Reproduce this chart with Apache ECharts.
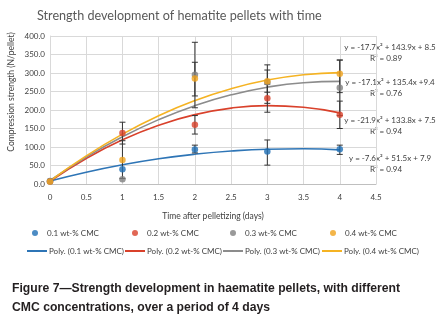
<!DOCTYPE html>
<html>
<head>
<meta charset="utf-8">
<script src="https://cdn.jsdelivr.net/npm/echarts@6/dist/echarts.min.js"></script>
<style>
html,body{margin:0;padding:0;background:#fff;}
#c{width:444px;height:330px;}
</style>
</head>
<body>
<div id="c"></div>
<script>
// ---- data ----
const days = [0, 1, 2, 3, 4];
const cmc01 = [8, 40, 93, 88, 94];
const cmc02 = [7, 138, 160, 232, 187];
const cmc03 = [7, 13, 295, 275, 260];
const cmc04 = [7, 65, 285, 278, 298];

// error bar ranges [low, high] per day (null = none visible)
const err01 = [null, null, [84, 105], [51, 119], [80, 105]];
const err02 = [null, [108, 167], [135, 185], [194, 270], [150, 224]];
const err03 = [null, null, [206, 383], [218, 322], [185, 335]];
const err04 = [null, [15, 117], [238, 329], [248, 308], [247, 335]];

// polynomial trendlines
const trendX = [0, 0.5, 1, 1.5, 2, 2.5, 3, 3.5, 4];
const poly01 = [7.9, 31.8, 51.8, 68.1, 80.5, 89.2, 94.0, 95.1, 92.3];
const poly02 = [7.5, 68.9, 119.4, 158.9, 187.5, 205.1, 211.8, 207.5, 192.3];
const poly03 = [9.4, 72.8, 127.7, 174.0, 211.8, 241.0, 261.7, 273.8, 277.4];
const poly04 = [8.5, 76.0, 134.7, 184.5, 225.5, 257.6, 280.9, 295.3, 300.9];

const names = ['0.1 wt-% CMC', '0.2 wt-% CMC', '0.3 wt-% CMC', '0.4 wt-% CMC'];
const polyNames = ['Poly. (0.1 wt-% CMC)', 'Poly. (0.2 wt-% CMC)', 'Poly. (0.3 wt-% CMC)', 'Poly. (0.4 wt-% CMC)'];
const equations = ['y = -7.6x² + 51.5x + 7.9', 'y = -21.9x² + 133.8x + 7.5', 'y = -17.1x² + 135.4x +9.4', 'y = -17.7x² + 143.9x + 8.5'];
const r2 = ['R² = 0.94', 'R² = 0.94', 'R² = 0.76', 'R² = 0.89'];
const xTicks = [0, 0.5, 1, 1.5, 2, 2.5, 3, 3.5, 4, 4.5];

const ptColors = ['#1f6fb5', '#d9412b', '#7f7f7f', '#f0a21c'];
const lnColors = ['#2e75b6', '#d9412b', '#8c8c8c', '#f5b323'];
const FONT = 'Lato';

const pointSets = [cmc01, cmc02, cmc03, cmc04];
const errSets = [err01, err02, err03, err04];
const polySets = [poly01, poly02, poly03, poly04];

const series = [];
polySets.forEach((p, i) => {
  series.push({
    name: polyNames[i], type: 'line', smooth: true, symbol: 'none',
    data: trendX.map((x, k) => [x, p[k]]),
    lineStyle: { color: lnColors[i], width: 1.6 },
    itemStyle: { color: lnColors[i] },
    z: 2, silent: true
  });
});
// error bars
const errData = [];
errSets.forEach(es => es.forEach((e, k) => { if (e) errData.push([days[k], e[0], e[1]]); }));
series.push({
  type: 'custom', z: 3, silent: true,
  data: errData,
  renderItem: function (params, api) {
    const x = api.value(0);
    const lo = api.coord([x, api.value(1)]);
    const hi = api.coord([x, api.value(2)]);
    const w = 3;
    const st = { stroke: '#333', lineWidth: 1 };
    return {
      type: 'group', children: [
        { type: 'line', shape: { x1: lo[0], y1: lo[1], x2: hi[0], y2: hi[1] }, style: st },
        { type: 'line', shape: { x1: lo[0] - w, y1: lo[1], x2: lo[0] + w, y2: lo[1] }, style: st },
        { type: 'line', shape: { x1: hi[0] - w, y1: hi[1], x2: hi[0] + w, y2: hi[1] }, style: st }
      ]
    };
  }
});
pointSets.forEach((p, i) => {
  series.push({
    name: names[i], type: 'scatter', symbol: 'circle', symbolSize: 6.5,
    data: days.map((d, k) => [d, p[k]]),
    itemStyle: { color: ptColors[i] }, z: 4
  });
});

const legends = [];
const dotX = [27, 127, 225, 325];
names.forEach((n, i) => {
  legends.push({
    data: [{ name: n, icon: 'circle' }], left: dotX[i], top: 224, itemWidth: 6, itemHeight: 6,
    textStyle: { fontFamily: FONT, fontSize: 8, color: '#404040', padding: [0, 0, 0, 4] },
    selectedMode: false
  });
});
const lineX = [21, 119, 217, 316];
polyNames.forEach((n, i) => {
  legends.push({
    data: [n], left: lineX[i], top: 242, itemWidth: 20, itemHeight: 2,
    textStyle: { fontFamily: FONT, fontSize: 8, color: '#404040', padding: [0, 0, 0, -3] },
    selectedMode: false
  });
});

const eqY = [158, 120, 82, 47];
const graphics = [
  { type: 'text', x: 11, y: 92, rotation: Math.PI / 2,
    style: { text: 'Compression strength (N/pellet)', fontFamily: FONT, fontSize: 8.5, fill: '#404040', align: 'center', verticalAlign: 'middle' } },
  { type: 'text', left: 12, top: 279,
    style: { text: 'Figure 7—Strength development in haematite pellets, with different\nCMC concentrations, over a period of 4 days', fontFamily: 'Liberation Sans', fontWeight: 'bold', fontSize: 12.2, lineHeight: 19, fill: '#231f20' } }
];
equations.forEach((e, i) => {
  graphics.push({ type: 'text', x: 390, y: eqY[i], style: { text: e, fontFamily: FONT, fontSize: 8, fill: '#404040', align: 'center', verticalAlign: 'middle' } });
  graphics.push({ type: 'text', x: 386, y: eqY[i] + 11, style: { text: r2[i], fontFamily: FONT, fontSize: 8, fill: '#404040', align: 'center', verticalAlign: 'middle' } });
});

const chart = echarts.init(document.getElementById('c'), null, { renderer: 'canvas' });
chart.setOption({
  animation: false,
  backgroundColor: '#fff',
  title: {
    text: 'Strength development of hematite pellets with time', left: 32, top: 4,
    textStyle: { fontFamily: FONT, fontSize: 12.6, fontWeight: 'normal', color: '#595959' }
  },
  legend: legends,
  grid: { left: 50, right: 68, top: 36, bottom: 146, containLabel: false },
  xAxis: {
    type: 'value', min: 0, max: 4.5, interval: 0.5,
    name: 'Time after pelletizing (days)', nameLocation: 'middle', nameGap: 28,
    nameTextStyle: { fontFamily: FONT, fontSize: 8.5, color: '#404040' },
    axisLine: { show: true, lineStyle: { color: '#bfbfbf' } },
    axisTick: { show: false },
    axisLabel: { fontFamily: FONT, fontSize: 8, color: '#404040', margin: 9,
      formatter: v => String(xTicks.find(t => Math.abs(t - v) < 1e-9) ?? v) },
    splitLine: { show: true, lineStyle: { color: '#d9d9d9', width: 1 } }
  },
  yAxis: {
    type: 'value', min: 0, max: 400, interval: 50,
    axisLine: { show: true, lineStyle: { color: '#d9d9d9' } },
    axisTick: { show: false },
    axisLabel: { fontFamily: FONT, fontSize: 8, color: '#404040', margin: 5, formatter: v => v.toFixed(1) },
    splitLine: { show: true, lineStyle: { color: '#d9d9d9', width: 1 } }
  },
  graphic: graphics,
  series: series
});
</script>
</body>
</html>
